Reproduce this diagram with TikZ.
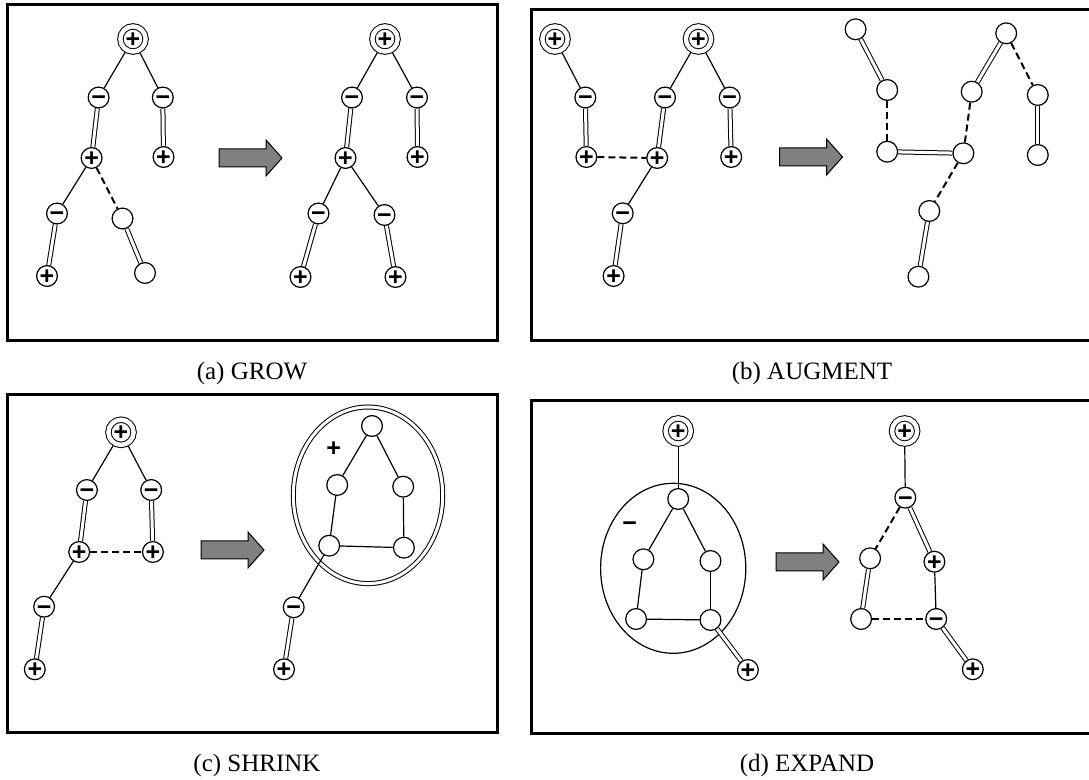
\documentclass[tikz,border=0pt]{standalone}
\usepackage{fontspec}
\setmainfont{Liberation Serif}
\newfontfamily\signfamily{Liberation Sans}
\usetikzlibrary{backgrounds}

\newcommand{\signfont}{\signfamily\bfseries\fontsize{12.5}{12.5}\selectfont}
\newcommand{\capfont}{\fontsize{12.5}{15}\selectfont}
\definecolor{arrowgray}{gray}{0.5}

\newcommand{\fatarrow}[2]{%
\filldraw[fill=arrowgray, line width=0.5pt] (#1,#2-9) -- (#1+47,#2-9) -- (#1+47,#2-18)
  -- (#1+63,#2) -- (#1+47,#2+18) -- (#1+47,#2+9) -- (#1,#2+9) -- cycle;}

\tikzset{
  signtxt/.style={font=\signfont, inner sep=0pt, text height=8.4pt, text depth=0pt},
  vtx/.style={circle, draw, fill=white, line width=0.6pt, minimum size=10.4pt, inner sep=0pt},
  pv/.style={vtx, label={[signtxt]center:+}},
  mv/.style={vtx, label={[signtxt]center:−}},
  rootv/.style={vtx, double, double distance=2.2pt, line width=0.5pt, minimum size=12.6pt,
    label={[signtxt]center:+}},
  tree/.style={line width=0.6pt},
  match/.style={double, double distance=1.5pt, line width=0.5pt},
  slack/.style={line width=1pt, dash pattern=on 3.5pt off 2pt},
  panel/.style={line width=1.5pt},
  subcap/.style={font=\capfont, inner sep=0pt}
}

\begin{document}
\begin{tikzpicture}[x=0.5pt,y=-0.5pt]
\useasboundingbox (0,0) rectangle (1089,780);
\clip (0,0) rectangle (1089,780);

\draw[panel] (7.3,5) rectangle (497.7,340.7);
\draw[panel] (531,9.3) rectangle (1100,340.7);
\draw[panel] (7.3,395) rectangle (497.7,733);
\draw[panel] (531,400.7) rectangle (1100,733.7);

% (a) grow
\node[rootv] (ar) at (133,39) {};
\node[mv] (am1) at (98.6,97.5) {};
\node[mv] (am2) at (162.8,97.5) {};
\node[pv] (ap1) at (91.6,158) {};
\node[pv] (ap2) at (163.5,157) {};
\node[mv] (am3) at (57,213.5) {};
\node[vtx] (ae1) at (122.5,218.5) {};
\node[pv] (ap3) at (47,276) {};
\node[vtx] (ae2) at (145,273) {};

\fatarrow{219}{158}

\node[rootv] (Ar) at (385,39) {};
\node[mv] (Am1) at (352,97.5) {};
\node[mv] (Am2) at (417,97.5) {};
\node[pv] (Ap1) at (345.5,158) {};
\node[pv] (Ap2) at (417.5,157) {};
\node[mv] (Am3) at (318.5,213.5) {};
\node[mv] (Am4) at (384.5,215) {};
\node[pv] (Ap3) at (300.5,277) {};
\node[pv] (Ap4) at (395.5,277) {};

\begin{scope}[on background layer]
\draw[tree] (ar) -- (am1);
\draw[tree] (ar) -- (am2);
\draw[match] (am1) -- (ap1);
\draw[match] (am2) -- (ap2);
\draw[tree] (ap1) -- (am3);
\draw[slack] (ap1) -- (ae1);
\draw[match] (am3) -- (ap3);
\draw[match] (ae1) -- (ae2);
\draw[tree] (Ar) -- (Am1);
\draw[tree] (Ar) -- (Am2);
\draw[match] (Am1) -- (Ap1);
\draw[match] (Am2) -- (Ap2);
\draw[tree] (Ap1) -- (Am3);
\draw[tree] (Ap1) -- (Am4);
\draw[match] (Am3) -- (Ap3);
\draw[match] (Am4) -- (Ap4);
\end{scope}

\node[subcap] (capa) at (252,373) {(a) GROW};

% (b) augment
\node[rootv] (br1) at (555,39) {};
\node[mv] (bm1) at (585.3,97.5) {};
\node[pv] (bp1) at (586.4,157) {};
\node[rootv] (br2) at (698.5,39) {};
\node[mv] (bm2) at (665,97.5) {};
\node[mv] (bm3) at (729.7,97.5) {};
\node[pv] (bp2) at (657.2,158) {};
\node[pv] (bp3) at (731.2,157) {};
\node[mv] (bm4) at (622.7,213.3) {};
\node[pv] (bp4) at (613.6,276) {};

\fatarrow{779.5}{157}

\node[vtx] (B1) at (855.6,29.3) {};
\node[vtx] (B2) at (887.2,90) {};
\node[vtx] (B3) at (887.2,151.7) {};
\node[vtx] (B4) at (963.4,153.3) {};
\node[vtx] (B5) at (929.3,211) {};
\node[vtx] (B6) at (918.4,276.7) {};
\node[vtx] (B7) at (1006.2,33.3) {};
\node[vtx] (B8) at (971.7,91.7) {};
\node[vtx] (B9) at (1037.8,95) {};
\node[vtx] (B10) at (1037.8,155) {};

\begin{scope}[on background layer]
\draw[tree] (br1) -- (bm1);
\draw[match] (bm1) -- (bp1);
\draw[slack] (bp1) -- (bp2);
\draw[tree] (br2) -- (bm2);
\draw[tree] (br2) -- (bm3);
\draw[match] (bm2) -- (bp2);
\draw[match] (bm3) -- (bp3);
\draw[tree] (bp2) -- (bm4);
\draw[match] (bm4) -- (bp4);
\draw[match] (B1) -- (B2);
\draw[slack] (B2) -- (B3);
\draw[match] (B3) -- (B4);
\draw[slack] (B4) -- (B8);
\draw[slack] (B4) -- (B5);
\draw[match] (B5) -- (B6);
\draw[match] (B7) -- (B8);
\draw[slack] (B7) -- (B9);
\draw[match] (B9) -- (B10);
\end{scope}

\node[subcap] (capb) at (812,373) {(b) AUGMENT};

% (c) shrink
\node[rootv] (cr) at (121,432.3) {};
\node[mv] (cm1) at (86.9,490) {};
\node[mv] (cm2) at (151.2,490) {};
\node[pv] (cp1) at (79.2,552) {};
\node[pv] (cp2) at (152.9,552) {};
\node[mv] (cm3) at (44.1,606.7) {};
\node[pv] (cp3) at (34.8,669.3) {};

\fatarrow{201}{550}

\node[vtx] (C1) at (372,426) {};
\node[vtx] (C2) at (337.2,485) {};
\node[vtx] (C3) at (403.2,486.7) {};
\node[vtx] (C4) at (329.2,545.7) {};
\node[vtx] (C5) at (403.9,547.7) {};
\node[mv] (Cm) at (293.7,607.3) {};
\node[pv] (Cp) at (284,669.3) {};
\node[signtxt] (Cplus) at (333.7,448.3) {+};

\begin{scope}[on background layer]
\draw[match] (368,495.3) ellipse [x radius=74.7, y radius=88.3];
\draw[tree] (cr) -- (cm1);
\draw[tree] (cr) -- (cm2);
\draw[match] (cm1) -- (cp1);
\draw[match] (cm2) -- (cp2);
\draw[slack] (cp1) -- (cp2);
\draw[tree] (cp1) -- (cm3);
\draw[match] (cm3) -- (cp3);
\draw[tree] (C1) -- (C2);
\draw[tree] (C1) -- (C3);
\draw[tree] (C2) -- (C4);
\draw[tree] (C3) -- (C5);
\draw[tree] (C4) -- (C5);
\draw[tree] (C4) -- (Cm);
\draw[match] (Cm) -- (Cp);
\end{scope}

\node[subcap] (capc) at (257,765) {(c) SHRINK};

% (d) expand
\node[rootv] (dr) at (678.2,431) {};
\node[vtx] (D1) at (678.2,499) {};
\node[vtx] (D2) at (643.4,559.3) {};
\node[vtx] (D3) at (710.5,561) {};
\node[vtx] (D4) at (636.1,619) {};
\node[vtx] (D5) at (710.5,620) {};
\node[pv] (dp) at (747.9,670) {};
\node[signtxt] (Dminus) at (629.6,522.7) {−};

\fatarrow{776}{562}

\node[rootv] (Dr) at (904.6,431) {};
\node[mv] (Dm1) at (905.3,497.7) {};
\node[vtx] (De1) at (870.1,558.3) {};
\node[pv] (Dp1) at (934.4,561.7) {};
\node[vtx] (De2) at (861.1,619) {};
\node[mv] (Dm2) at (936.2,619) {};
\node[pv] (Dp2) at (972.8,669.3) {};

\begin{scope}[on background layer]
\draw[tree] (673.2,568.3) ellipse [x radius=72.6, y radius=85];
\draw[tree] (dr) -- (D1);
\draw[tree] (D1) -- (D2);
\draw[tree] (D1) -- (D3);
\draw[tree] (D2) -- (D4);
\draw[tree] (D3) -- (D5);
\draw[tree] (D4) -- (D5);
\draw[match] (D5) -- (dp);
\draw[tree] (Dr) -- (Dm1);
\draw[slack] (Dm1) -- (De1);
\draw[match] (Dm1) -- (Dp1);
\draw[tree] (Dp1) -- (Dm2);
\draw[match] (De1) -- (De2);
\draw[slack] (De2) -- (Dm2);
\draw[match] (Dm2) -- (Dp2);
\end{scope}

\node[subcap] (capd) at (807,765) {(d) EXPAND};
\end{tikzpicture}
\end{document}
